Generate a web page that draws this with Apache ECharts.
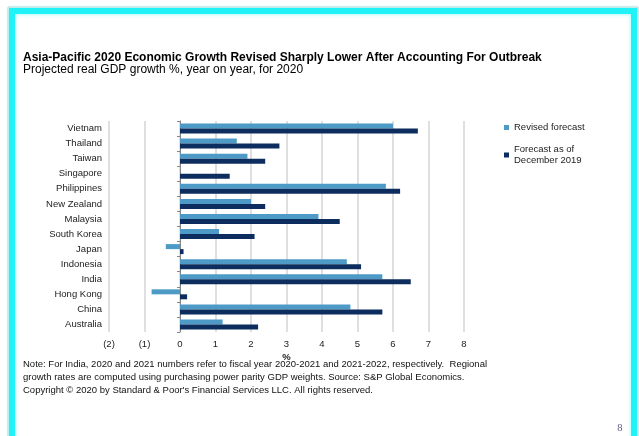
<!DOCTYPE html>
<html>
<head>
<meta charset="utf-8">
<script src="https://cdn.jsdelivr.net/npm/echarts@6/dist/echarts.min.js"></script>
<style>
  html, body { margin: 0; padding: 0; background: #fff; }
  #main { width: 639px; height: 436px; }
</style>
</head>
<body>
<div id="main"></div>
<script>
// categories, top to bottom
var countries = ['Vietnam', 'Thailand', 'Taiwan', 'Singapore', 'Philippines', 'New Zealand',
    'Malaysia', 'South Korea', 'Japan', 'Indonesia', 'India', 'Hong Kong', 'China', 'Australia'];
var revised = [6.0, 1.6, 1.9, 0, 5.8, 2.0, 3.9, 1.1, -0.4, 4.7, 5.7, -0.8, 4.8, 1.2];
var dec2019 = [6.7, 2.8, 2.4, 1.4, 6.2, 2.4, 4.5, 2.1, 0.1, 5.1, 6.5, 0.2, 5.7, 2.2];
var seriesNames = ['Revised forecast', 'Forecast as of\nDecember 2019'];

var FONT = '"Liberation Sans", Arial, sans-serif';

var note = 'Note: For India, 2020 and 2021 numbers refer to fiscal year 2020-2021 and 2021-2022, respectively.  Regional\n' +
    'growth rates are computed using purchasing power parity GDP weights. Source: S&P Global Economics.\n' +
    'Copyright \u00a9 2020 by Standard & Poor\'s Financial Services LLC. All rights reserved.';

var myChart = echarts.init(document.getElementById('main'));

var option = {
    backgroundColor: '#fff',
    textStyle: { fontFamily: FONT },
    animation: false,
    title: {
        text: 'Asia-Pacific 2020 Economic Growth Revised Sharply Lower After Accounting For Outbreak',
        subtext: 'Projected real GDP growth %, year on year, for 2020',
        left: 18,
        top: 47,
        itemGap: 0,
        textStyle: { fontFamily: FONT, fontSize: 12, fontWeight: 'bold', color: '#000' },
        subtextStyle: { fontFamily: FONT, fontSize: 12, color: '#000' }
    },
    legend: {
        orient: 'vertical',
        left: 504,
        top: 122,
        padding: 0,
        itemWidth: 5,
        itemHeight: 5,
        itemGap: 11,
        icon: 'rect',
        data: seriesNames,
        textStyle: { fontFamily: FONT, fontSize: 9.5, color: '#222', lineHeight: 11 }
    },
    grid: { left: 109, right: 175, top: 121, height: 211 },
    xAxis: {
        type: 'value',
        min: -2,
        max: 8,
        interval: 1,
        name: '%',
        nameLocation: 'middle',
        nameGap: 20,
        nameTextStyle: { fontFamily: FONT, fontSize: 9.5, fontWeight: 'bold', color: '#222' },
        axisLine: { show: false },
        axisTick: { show: false },
        axisLabel: {
            fontFamily: FONT, fontSize: 9.5, color: '#222', margin: 7,
            formatter: function (v) { return v < 0 ? '(' + (-v) + ')' : String(v); }
        },
        splitLine: { lineStyle: { color: '#d4d4d4', width: 1.5 } }
    },
    yAxis: [
        {
            type: 'category',
            data: countries,
            inverse: true,
            axisLine: { show: false, onZero: false },
            axisTick: { show: false },
            axisLabel: { interval: 0, fontFamily: FONT, fontSize: 9.5, color: '#222', margin: 7 }
        },
        {
            // zero line with ticks
            type: 'category',
            data: countries,
            inverse: true,
            position: 'left',
            axisLine: { onZero: true, onZeroAxisIndex: 0, lineStyle: { color: '#868686', width: 1 } },
            axisTick: { show: true, interval: 0, length: 3, lineStyle: { color: '#868686' } },
            axisLabel: { show: false, interval: 0 }
        }
    ],
    series: [
        {
            name: seriesNames[0],
            type: 'bar',
            data: revised,
            barWidth: 5,
            barGap: '0%',
            itemStyle: { color: '#4d9ac7' }
        },
        {
            name: seriesNames[1],
            type: 'bar',
            data: dec2019,
            barWidth: 5,
            barGap: '0%',
            itemStyle: { color: '#0c2d5d' }
        }
    ],
    graphic: [
        {
            type: 'rect',
            shape: { x: 8, y: 7, width: 630, height: 460 },
            style: { fill: 'none', stroke: '#c8c8c8', lineWidth: 1 }
        },
        {
            type: 'rect',
            shape: { x: 12, y: 11, width: 622, height: 460 },
            style: { fill: 'none', stroke: '#1ff3f7', lineWidth: 6, shadowBlur: 4, shadowColor: '#8ff9fb' }
        },
        {
            type: 'text',
            left: 23,
            top: 358,
            style: { text: note, font: '9.5px ' + FONT, fill: '#111', lineHeight: 13 }
        },
        {
            type: 'text',
            left: 617,
            top: 424,
            style: { text: '8', font: '9px "DejaVu Serif", serif', fill: '#5a5a84' }
        }
    ]
};

myChart.setOption(option);
window.onresize = myChart.resize;
</script>
</body>
</html>
